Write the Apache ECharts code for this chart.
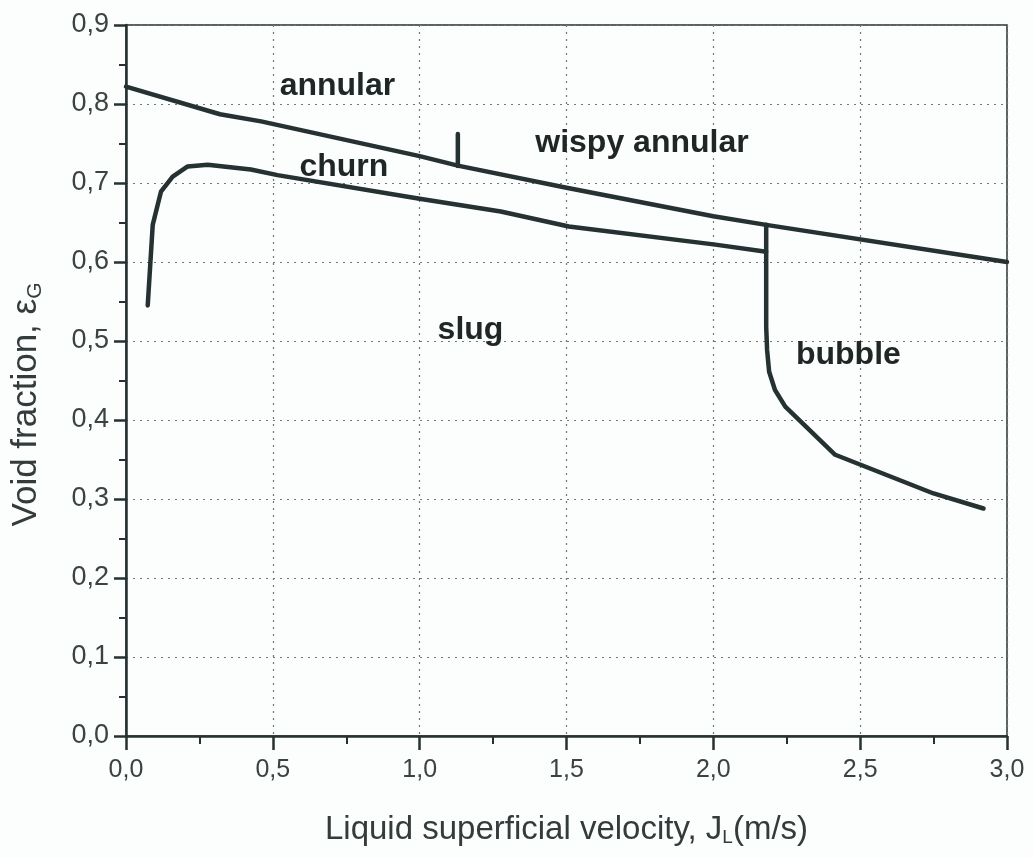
<!DOCTYPE html>
<html><head><meta charset="utf-8">
<script src="https://cdn.jsdelivr.net/npm/echarts@6/dist/echarts.min.js"></script>
<style>html,body{margin:0;padding:0;background:#fcfdfd}#c{width:1033px;height:858px}</style>
</head><body><div id="c"></div>
<script>
// annular / wispy-annular upper boundary
const upperX = [0.0, 0.32, 0.46, 1.0, 1.13, 1.5, 2.0, 2.18, 3.0];
const upperY = [0.822, 0.787, 0.778, 0.734, 0.722, 0.694, 0.658, 0.647, 0.600];
// churn / slug boundary
const churnX = [0.074, 0.091, 0.119, 0.159, 0.21, 0.278, 0.425, 0.516, 1.0, 1.276, 1.508, 2.007, 2.18];
const churnY = [0.545, 0.647, 0.689, 0.708, 0.721, 0.723, 0.717, 0.710, 0.680, 0.664, 0.645, 0.622, 0.613];
// bubble boundary
const bubbleX = [2.18, 2.18, 2.18, 2.183, 2.19, 2.21, 2.245, 2.415, 2.75, 2.92];
const bubbleY = [0.647, 0.613, 0.518, 0.489, 0.461, 0.438, 0.417, 0.356, 0.307, 0.288];
// short vertical marker churn/wispy
const markX = [1.13, 1.13];
const markY = [0.7215, 0.762];
// regime labels
const labelText = ['annular', 'churn', 'wispy annular', 'slug', 'bubble'];
const labelX = [0.72, 0.742, 1.757, 1.173, 2.46];
const labelY = [0.822, 0.72, 0.75, 0.514, 0.482];

const pairs = (xs, ys) => xs.map((x, i) => [x, ys[i]]);
const fmt = v => v.toFixed(1).replace('.', ',');
const ink = '#263131';
const lineStyle = {color: ink, width: 4.5, join: 'round', cap: 'round'};
const mkLine = (xs, ys) => ({type: 'line', data: pairs(xs, ys), symbol: 'none', lineStyle, silent: true, z: 5});

const chart = echarts.init(document.getElementById('c'));
chart.setOption({
  backgroundColor: '#fcfdfd',
  animation: false,
  grid: {left: 126, right: 26, top: 25, bottom: 122, outerBoundsMode: 'none', containLabel: false,
    show: true, borderColor: ink, borderWidth: 1.5, backgroundColor: 'transparent'},
  xAxis: {
    type: 'value', min: 0, max: 3, interval: 0.5,
    name: 'Liquid superficial velocity, J{sub|L}(m/s)',
    nameLocation: 'middle', nameGap: 76,
    nameTextStyle: {fontFamily: 'Liberation Sans', fontSize: 33, color: '#333b3b',
      rich: {sub: {fontFamily: 'Liberation Sans', fontSize: 19, color: '#333b3b', verticalAlign: 'bottom', padding: [16, 0, 0, 0]}}},
    axisLine: {show: true, lineStyle: {color: ink, width: 2.5}},
    axisTick: {show: true, inside: false, length: 14, lineStyle: {color: ink, width: 2.5}},
    minorTick: {show: true, splitNumber: 2, length: 8, lineStyle: {color: ink, width: 2}},
    axisLabel: {margin: 22, fontFamily: 'Liberation Sans', fontSize: 25, color: '#3a4242', formatter: fmt},
    splitLine: {show: true, lineStyle: {color: '#6f7777', type: [2, 5], width: 1.2}}
  },
  yAxis: {
    type: 'value', min: 0, max: 0.9, interval: 0.1,
    name: 'Void fraction, ε{sub|G}',
    nameLocation: 'middle', nameGap: 80,
    nameTextStyle: {fontFamily: 'Liberation Sans', fontSize: 35, color: '#333b3b', padding: [0, 48, 0, 0],
      rich: {sub: {fontFamily: 'Liberation Sans', fontSize: 21, color: '#333b3b', verticalAlign: 'bottom', padding: [18, 0, 0, 0]}}},
    axisLine: {show: true, lineStyle: {color: ink, width: 2.5}},
    axisTick: {show: true, inside: false, length: 12, lineStyle: {color: ink, width: 2.5}},
    minorTick: {show: true, splitNumber: 2, length: 7, lineStyle: {color: ink, width: 2}},
    axisLabel: {margin: 17, fontFamily: 'Liberation Sans', fontSize: 27, color: '#3a4242', formatter: fmt},
    splitLine: {show: true, lineStyle: {color: '#6f7777', type: [2, 5], width: 1.2}}
  },
  series: [
    mkLine(upperX, upperY),
    mkLine(churnX, churnY),
    mkLine(bubbleX, bubbleY),
    mkLine(markX, markY),
    {
      type: 'scatter', symbolSize: 0, silent: true, z: 6,
      itemStyle: {opacity: 1},
      data: labelX.map((x, i) => ({value: [x, labelY[i]], name: labelText[i]})),
      label: {show: true, position: 'inside', formatter: p => p.name, opacity: 1,
        fontFamily: 'Liberation Sans', fontWeight: 'bold', fontSize: 32, color: '#1f2626'}
    }
  ]
});
</script></body></html>
